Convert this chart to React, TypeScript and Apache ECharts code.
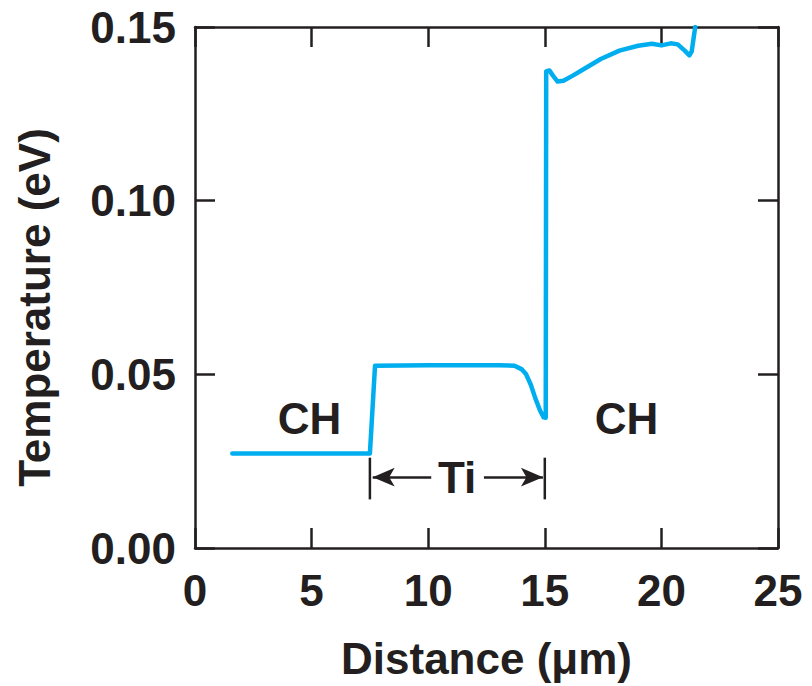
import React, { useEffect, useRef } from "react";
import * as echarts from "echarts";

const xTicks = [0, 5, 10, 15, 20, 25];
const yTicks = [0, 0.05, 0.1, 0.15];

const profileX = [
  1.6, 7.5, 7.72, 10.0, 13.0, 13.7, 14.0, 14.2, 14.4, 14.6, 14.8, 14.95, 15.04,
  15.06, 15.2, 15.35, 15.55, 15.8, 16.2, 16.75, 17.4, 18.2, 19.0, 19.6, 20.0,
  20.4, 20.7, 21.0, 21.2, 21.3, 21.45,
];
const profileY = [
  0.0272, 0.0272, 0.0525, 0.0526, 0.0526, 0.0525, 0.0515, 0.05, 0.047, 0.043,
  0.0395, 0.0376, 0.0375, 0.1372, 0.1375, 0.136, 0.1343, 0.1345, 0.136, 0.1382,
  0.1408, 0.1432, 0.1446, 0.1452, 0.1447, 0.1453, 0.145, 0.1432, 0.1418, 0.143,
  0.15,
];

const tiStart = 7.5;
const tiEnd = 15;
const bracketTop = 0.026;
const bracketBottom = 0.014;
const arrowY = 0.0204;
const leftArrowFrom = 10.13;
const leftArrowTo = 7.62;
const rightArrowFrom = 12.39;
const rightArrowTo = 14.92;

const labels = [
  { name: "CH", x: 4.91, y: 0.0374 },
  { name: "CH", x: 18.5, y: 0.0374 },
  { name: "Ti", x: 11.24, y: 0.0204 },
];

const INK = "#231f20";
const FONT = "'Liberation Sans', Arial, Helvetica, sans-serif";

export default function App() {
  const ref = useRef<HTMLDivElement>(null);
  useEffect(() => {
    if (!ref.current) return;
    const chart = echarts.init(ref.current, undefined, { renderer: "svg" });
    const axisCommon = {
      type: "value" as const,
      axisLine: { show: true, onZero: false, lineStyle: { color: INK, width: 2.5 } },
      axisTick: { show: true, inside: true, length: 20, lineStyle: { color: INK, width: 2.5 } },
      splitLine: { show: false },
    };
    chart.setOption({
      animation: false,
      textStyle: { fontFamily: FONT },
      grid: { left: 195, right: 34, top: 27, bottom: 138, containLabel: false },
      xAxis: [
        {
          ...axisCommon,
          min: xTicks[0],
          max: xTicks[xTicks.length - 1],
          interval: 5,
          position: "bottom",
          axisLabel: {
            color: INK,
            fontSize: 44,
            fontWeight: "bold",
            fontFamily: FONT,
            margin: 20,
          },
          name: "Distance (μm)",
          nameLocation: "middle",
          nameGap: 88,
          nameTextStyle: { color: INK, fontSize: 44, fontWeight: "bold", fontFamily: FONT },
        },
        {
          ...axisCommon,
          min: xTicks[0],
          max: xTicks[xTicks.length - 1],
          interval: 5,
          position: "top",
          axisLabel: { show: false },
        },
      ],
      yAxis: [
        {
          ...axisCommon,
          min: yTicks[0],
          max: yTicks[yTicks.length - 1],
          interval: 0.05,
          position: "left",
          axisLabel: {
            color: INK,
            fontSize: 44,
            fontWeight: "bold",
            fontFamily: FONT,
            margin: 19,
            formatter: (v: number) => v.toFixed(2),
          },
          name: "Temperature (eV)",
          nameLocation: "middle",
          nameGap: 139,
          nameTextStyle: {
            color: INK,
            fontSize: 44,
            fontWeight: "bold",
            fontFamily: FONT,
            padding: [0, 40, 0, 0],
          },
        },
        {
          ...axisCommon,
          min: yTicks[0],
          max: yTicks[yTicks.length - 1],
          interval: 0.05,
          position: "right",
          axisLabel: { show: false },
        },
      ],
      series: [
        {
          type: "line",
          data: profileX.map((x, i) => [x, profileY[i]]),
          showSymbol: false,
          symbol: "none",
          lineStyle: { color: "#00aeef", width: 4.5, join: "round", cap: "round" },
          z: 3,
        },
        {
          type: "line",
          data: [
            [tiStart, bracketTop],
            [tiStart, bracketBottom],
          ],
          symbol: "none",
          lineStyle: { color: INK, width: 2.5 },
        },
        {
          type: "line",
          data: [
            [tiEnd, bracketTop],
            [tiEnd, bracketBottom],
          ],
          symbol: "none",
          lineStyle: { color: INK, width: 2.5 },
          markLine: {
            silent: true,
            symbol: ["none", "arrow"],
            symbolSize: [14, 22],
            label: { show: false },
            lineStyle: { color: INK, width: 2.5, type: "solid" },
            data: [
              [{ coord: [leftArrowFrom, arrowY] }, { coord: [leftArrowTo, arrowY] }],
              [{ coord: [rightArrowFrom, arrowY] }, { coord: [rightArrowTo, arrowY] }],
            ],
          },
        },
        {
          type: "scatter",
          data: labels.map((l) => ({ name: l.name, value: [l.x, l.y] })),
          symbolSize: 1,
          itemStyle: { color: "rgba(0,0,0,0)", opacity: 1 },
          label: {
            show: true,
            position: "inside",
            formatter: (p: any) => p.name,
            color: INK,
            opacity: 1,
            fontSize: 44,
            fontWeight: "bold",
            fontFamily: FONT,
          },
        },
      ],
    });
    return () => chart.dispose();
  }, []);
  return (
    <div
      ref={ref}
      style={{ position: "absolute", left: 0, top: 0, width: 812, height: 686, background: "#fff" }}
    />
  );
}
